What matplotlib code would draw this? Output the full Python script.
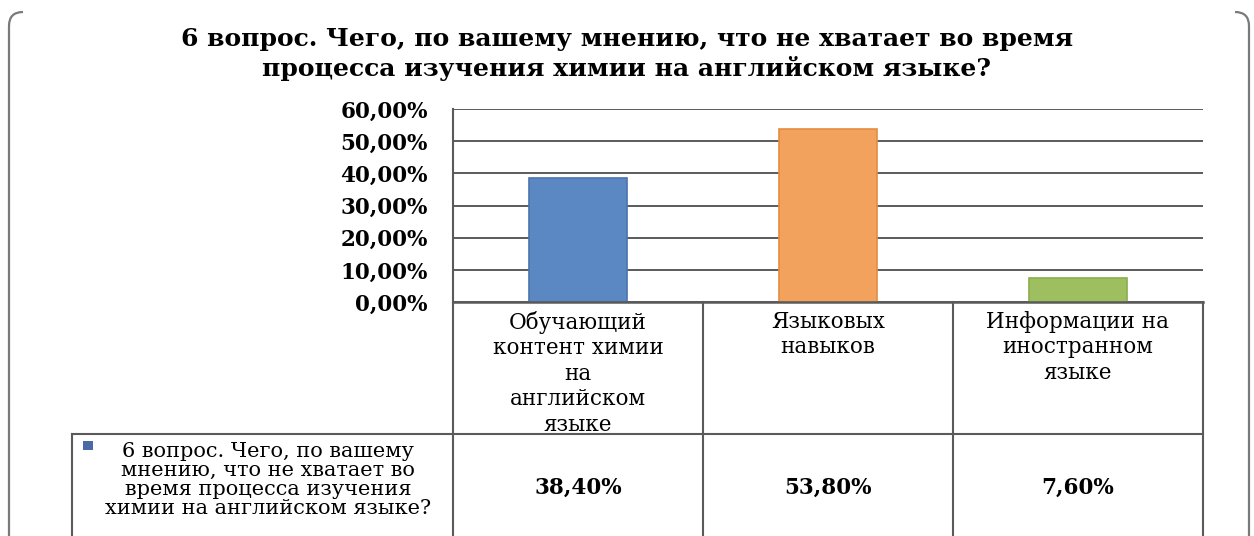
import matplotlib
matplotlib.use("Agg")
import matplotlib.pyplot as plt
from matplotlib.lines import Line2D
from matplotlib.patches import Rectangle, PathPatch
from matplotlib.path import Path

W, H = 1254, 536

title = "6 вопрос. Чего, по вашему мнению, что не хватает во время\nпроцесса изучения химии на английском языке?"
categories = ["Обучающий\nконтент химии\nна\nанглийском\nязыке",
              "Языковых\nнавыков",
              "Информации на\nиностранном\nязыке"]
values = [38.4, 53.8, 7.6]
series_label = "6 вопрос. Чего, по вашему\nмнению, что не хватает во\nвремя процесса изучения\nхимии на английском языке?"
yticks = [0, 10, 20, 30, 40, 50, 60]
bar_colors = ["#5b87c2", "#f2a25c", "#9dbf5f"]
bar_edges = ["#4a74ad", "#e38d42", "#8aad4e"]

SERIF = "DejaVu Serif"
GRID = "#5a5a5a"


def fx(px):
    return px / W


def fy(py):
    return 1 - py / H


def pct(v):
    return f"{v:.2f}%".replace(".", ",")


fig = plt.figure(figsize=(W / 100, H / 100), dpi=100)

# outer frame: only the sides and the rounded top corners are visible
for x0, sgn in [(9, 1), (1249, -1)]:
    verts = [(fx(x0), fy(560)), (fx(x0), fy(26)), (fx(x0), fy(12)), (fx(x0 + sgn * 14), fy(12))]
    codes = [Path.MOVETO, Path.LINETO, Path.CURVE3, Path.CURVE3]
    fig.add_artist(PathPatch(Path(verts, codes), fill=False, edgecolor="#7a7a7a",
                             lw=1.6, transform=fig.transFigure))

fig.text(0.5, fy(54), title, ha="center", va="center", fontsize=18, fontweight="bold",
         family=SERIF, linespacing=1.25)

# plot area
L, R, T, B = 453, 1203, 109, 302
ax = fig.add_axes([fx(L), fy(B), fx(R) - fx(L), fy(T) - fy(B)])
x = list(range(len(values)))
ax.bar(x, values, width=0.39, color=bar_colors, edgecolor=bar_edges, linewidth=1.2, zorder=3)
ax.set_xlim(-0.5, len(values) - 0.5)
ax.set_ylim(0, 60)
ax.set_yticks(yticks)
ax.set_yticklabels([pct(v) for v in yticks], fontsize=15.5, fontweight="bold", family=SERIF)
ax.tick_params(axis="y", length=0, pad=18)
ax.set_xticks([])
ax.yaxis.grid(True, color=GRID, lw=1.4, zorder=0)
for s in ["top", "right", "bottom"]:
    ax.spines[s].set_visible(False)
ax.spines["left"].set_color(GRID)
ax.spines["left"].set_linewidth(1.5)

# data table below the plot
cols = [L, 703, 953, R]
ROW1 = 434
BOT = 560


def fline(x1, y1, x2, y2, lw=1.5):
    fig.add_artist(Line2D([fx(x1), fx(x2)], [fy(y1), fy(y2)], color=GRID, lw=lw,
                          transform=fig.transFigure))


fline(L, B, R, B, lw=1.8)
fline(L, ROW1, R, ROW1)
for c in cols:
    fline(c, B, c, BOT)
fline(72, ROW1, L, ROW1)
fline(72, ROW1, 72, BOT)

for i, (cat, v) in enumerate(zip(categories, values)):
    cx = (cols[i] + cols[i + 1]) / 2
    fig.text(fx(cx), fy(311), cat, ha="center", va="top", fontsize=15.5, family=SERIF,
             linespacing=1.2)
    fig.text(fx(cx), fy(488), pct(v), ha="center", va="center", fontsize=15.5,
             fontweight="bold", family=SERIF)

fig.add_artist(Rectangle((fx(83), fy(450)), fx(10), 9 / H, facecolor="#4a6aa5",
                         edgecolor="none", transform=fig.transFigure))
fig.text(fx(268), fy(480), series_label, ha="center", va="center", fontsize=15,
         family=SERIF, linespacing=0.98)

fig.savefig("out.png", dpi=100, facecolor="white")
